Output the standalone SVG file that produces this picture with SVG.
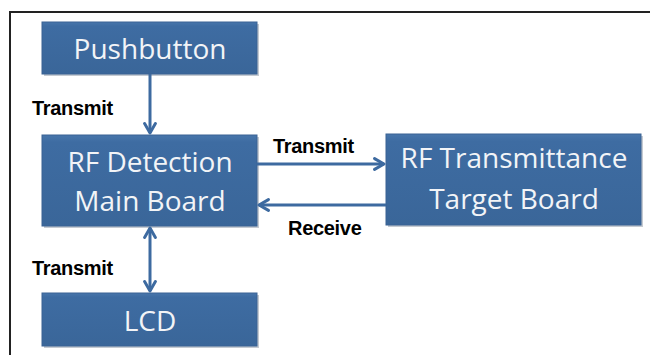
<svg xmlns="http://www.w3.org/2000/svg" width="650" height="355" viewBox="0 0 650 355">
<defs>
<linearGradient id="bg" x1="0" y1="0" x2="0" y2="1">
<stop offset="0" stop-color="#4876ab"/>
<stop offset="0.08" stop-color="#3e6ca2"/>
<stop offset="1" stop-color="#3a6699"/>
</linearGradient>
<marker id="ah" viewBox="0 0 10 10" refX="8" refY="5" markerWidth="4.5" markerHeight="4.5" orient="auto-start-reverse" markerUnits="strokeWidth">
<path d="M1,1 L8,5 L1,9" fill="none" stroke="#3d6aa0" stroke-width="2.2" stroke-linecap="round" stroke-linejoin="round"/>
</marker>
</defs>
<style>
.box{fill:url(#bg);stroke:#3b6394;stroke-width:1}
.sh{fill:#7f8a99;opacity:0.45}
.t{font-family:"Open Sans","DejaVu Sans",sans-serif;font-size:28px;fill:#f2f4f7;text-anchor:middle}
.lbl{font-family:"Liberation Sans",Arial,sans-serif;font-weight:bold;font-size:20px;fill:#000;letter-spacing:-0.3px}
.c{stroke:#3d6aa0;stroke-width:3;fill:none}
</style>
<rect width="650" height="355" fill="#fff"/>
<path d="M10,355 V12 H650" fill="none" stroke="#222" stroke-width="2"/>
<g id="pushbutton">
<rect class="sh" x="44" y="24" width="215" height="52"/>
<rect class="box" x="42" y="22" width="215" height="52"/>
<text class="t" x="150" y="59">Pushbutton</text>
</g>
<g id="rf-detection">
<rect class="sh" x="44" y="137" width="215" height="91"/>
<rect class="box" x="42" y="135" width="215" height="91"/>
<text class="t" x="150" y="172">RF Detection</text>
<text class="t" x="150" y="211">Main Board</text>
</g>
<g id="rf-transmittance">
<rect class="sh" x="388" y="136" width="255" height="91"/>
<rect class="box" x="386" y="134" width="255" height="91"/>
<text class="t" x="514" y="168">RF Transmittance</text>
<text class="t" x="514" y="209">Target Board</text>
</g>
<g id="lcd">
<rect class="sh" x="44" y="295" width="215" height="53"/>
<rect class="box" x="42" y="293" width="215" height="53"/>
<text class="t" x="150" y="331">LCD</text>
</g>
<g id="connectors">
<line class="c" x1="150" y1="74" x2="150" y2="133" marker-end="url(#ah)"/>
<line class="c" x1="257" y1="164" x2="384" y2="164" marker-end="url(#ah)"/>
<line class="c" x1="386" y1="205" x2="259" y2="205" marker-end="url(#ah)"/>
<line class="c" x1="150" y1="228" x2="150" y2="291" marker-start="url(#ah)" marker-end="url(#ah)"/>
<text class="lbl" x="32" y="115">Transmit</text>
<text class="lbl" x="273" y="153">Transmit</text>
<text class="lbl" x="288" y="235">Receive</text>
<text class="lbl" x="32" y="275">Transmit</text>
</g>
</svg>
